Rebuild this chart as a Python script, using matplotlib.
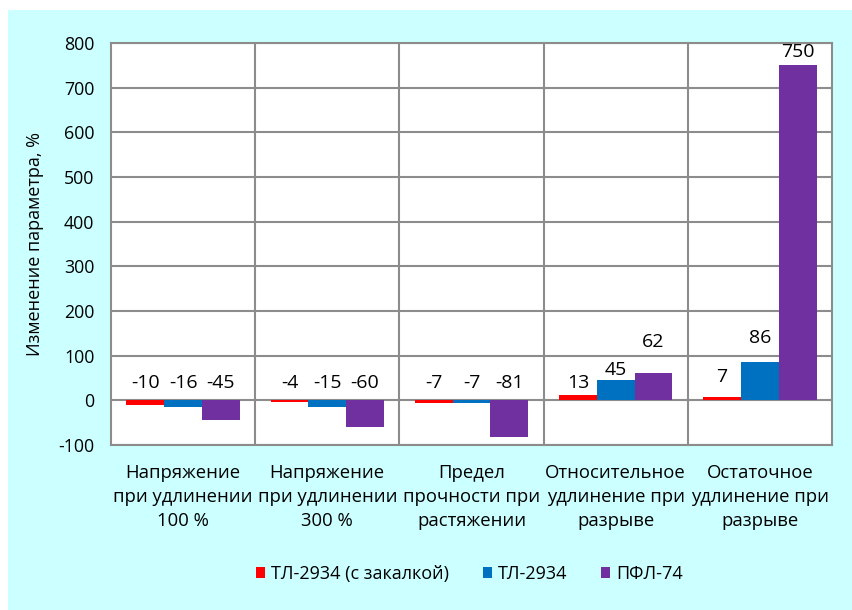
import matplotlib
matplotlib.use("Agg")
import matplotlib.pyplot as plt
import numpy as np

categories = ["Напряжение\nпри удлинении\n100 %",
              "Напряжение\nпри удлинении\n300 %",
              "Предел\nпрочности при\nрастяжении",
              "Относительное\nудлинение при\nразрыве",
              "Остаточное\nудлинение при\nразрыве"]
series_names = ["ТЛ-2934 (с закалкой)", "ТЛ-2934", "ПФЛ-74"]
tl_quenched = [-10, -4, -7, 13, 7]
tl_2934 = [-16, -15, -7, 45, 86]
pfl_74 = [-45, -60, -81, 62, 750]
colors = ["#ff0000", "#0070c0", "#7030a0"]
yticks = [-100, 0, 100, 200, 300, 400, 500, 600, 700, 800]

# label vertical positions (style: where Excel placed the data labels)
label_y = [
    [39, 39, 39, 39, 53],
    [39, 39, 39, 68, 140],
    [39, 39, 39, 131, 780],
]

plt.rcParams['font.family'] = ['Open Sans', 'DejaVu Sans']

fig = plt.figure(figsize=(8.52, 6.10), dpi=100)
fig.patch.set_facecolor("white")
bg = plt.Rectangle((8 / 852, 0), 1, 1 - 10 / 610, transform=fig.transFigure,
                   facecolor="#ccffff", edgecolor="none", zorder=-10)
fig.patches.append(bg)

ax = fig.add_axes([111 / 852, 1 - 445 / 610, (832 - 111) / 852, (445 - 43) / 610])
ax.set_facecolor("white")

data = [tl_quenched, tl_2934, pfl_74]
n = len(categories)
x = np.arange(n)
w = 0.262
for i, (vals, c) in enumerate(zip(data, colors)):
    pos = x + (i - 1) * w
    ax.bar(pos, vals, width=w, color=c, label=series_names[i], zorder=3)
    for p, v, ly in zip(pos, vals, label_y[i]):
        ax.text(p, ly, f"{v}", ha="center", va="center", fontsize=14,
                color="black", zorder=4)

ax.set_xlim(-0.5, n - 0.5)
ax.set_ylim(-100, 800)
ax.set_yticks(yticks)
ax.set_yticklabels([str(t) for t in yticks])
ax.yaxis.grid(True, color="#8c8c8c", linewidth=1.5, zorder=1)
for b in np.arange(0.5, n - 0.5, 1):
    ax.axvline(b, color="#8c8c8c", linewidth=1.5, zorder=1)
ax.set_xticks(x)
ax.set_xticklabels(categories, fontsize=13.3, linespacing=1.4)
ax.tick_params(axis="x", length=0, pad=14)
ax.tick_params(axis="y", length=0, pad=12, labelsize=12.8)
for s in ax.spines.values():
    s.set_color("#8c8c8c")
    s.set_linewidth(1.5)
ax.set_ylabel("Изменение параметра, %", fontsize=13, labelpad=10)

leg = fig.legend(loc="center", bbox_to_anchor=(0.551, 1 - 574 / 610), ncol=3,
                 frameon=False, fontsize=13, handlelength=0.5, handleheight=0.5,
                 handletextpad=0.3, columnspacing=1.9)

fig.savefig("out.png", dpi=100, facecolor=fig.get_facecolor())
